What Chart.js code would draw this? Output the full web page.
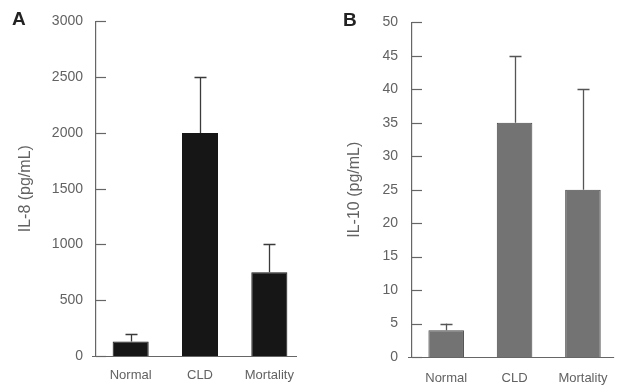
<!DOCTYPE html>
<html>
<head>
<meta charset="utf-8">
<script src="https://cdn.jsdelivr.net/npm/chart.js@4.4.1/dist/chart.umd.min.js"></script>
<style>
  html, body { margin: 0; padding: 0; background: #fff; overflow: hidden; }
  #wrap { position: relative; width: 617px; height: 388px; overflow: hidden; }
  #cA { position: absolute; left: 0; top: 0; }
  #cB { position: absolute; left: 310px; top: 0; }
</style>
</head>
<body>
<div id="wrap">
  <canvas id="cA" width="310" height="388"></canvas>
  <canvas id="cB" width="312" height="388"></canvas>
</div>
<script>
// Groups and measured cytokine levels (mean with SD above)
const categories = ['Normal', 'CLD', 'Mortality'];
const il8Mean = [130, 2000, 750];
const il8SD = [70, 500, 250];
const il10Mean = [4, 35, 25];
const il10SD = [1, 10, 15];
const il8Axis = { max: 3000, step: 500 };
const il10Axis = { max: 50, step: 5 };

const FONT = '"Liberation Sans", Arial, Helvetica, sans-serif';
const TEXT = '#626262';
const AXIS = '#666';

// Upper-only error whiskers, inward y ticks, baseline and panel letter
const decorations = {
  id: 'decorations',
  afterDatasetsDraw(chart, args, opts) {
    const { ctx, chartArea } = chart;
    const x = chart.scales.x, y = chart.scales.y;
    ctx.save();

    // inward tick marks on the value axis
    ctx.strokeStyle = AXIS;
    ctx.lineWidth = 1.2;
    y.ticks.forEach(t => {
      const py = Math.round(y.getPixelForValue(t.value)) + 0.5;
      ctx.beginPath();
      ctx.moveTo(chartArea.left, py);
      ctx.lineTo(chartArea.left + opts.tickLen, py);
      ctx.stroke();
    });

    // baseline
    const y0 = Math.round(y.getPixelForValue(0)) + 0.5;
    ctx.beginPath();
    ctx.moveTo(chartArea.left - opts.baseLeft, y0);
    ctx.lineTo(chartArea.right - opts.baseRight, y0);
    ctx.stroke();

    // error whiskers
    const mean = chart.data.datasets[0].data;
    const sd = opts.sd;
    ctx.strokeStyle = opts.errColor;
    ctx.lineWidth = 1.3;
    mean.forEach((m, i) => {
      const px = Math.round(x.getPixelForValue(i)) + 0.5;
      const pTop = y.getPixelForValue(m + sd[i]);
      const pBar = y.getPixelForValue(m);
      ctx.beginPath();
      ctx.moveTo(px, pBar);
      ctx.lineTo(px, pTop);
      ctx.moveTo(px - opts.cap, Math.round(pTop) + 0.5);
      ctx.lineTo(px + opts.cap, Math.round(pTop) + 0.5);
      ctx.stroke();
    });

    // panel letter
    ctx.fillStyle = '#222';
    ctx.font = 'bold 19px ' + FONT;
    ctx.textBaseline = 'alphabetic';
    ctx.textAlign = 'left';
    ctx.fillText(opts.letter, opts.letterX, opts.letterY);
    ctx.restore();
  }
};

function makeChart(id, cfg) {
  return new Chart(document.getElementById(id), {
    type: 'bar',
    data: {
      labels: categories,
      datasets: [{
        data: cfg.mean,
        backgroundColor: cfg.fill,
        borderColor: cfg.edge,
        borderWidth: 1,
        borderSkipped: 'bottom',
        categoryPercentage: 1,
        barPercentage: 0.52
      }]
    },
    options: {
      responsive: false,
      animation: false,
      layout: { padding: { top: cfg.top, right: cfg.right, bottom: 0, left: 0 } },
      plugins: {
        legend: { display: false },
        tooltip: { enabled: false },
        decorations: {
          sd: cfg.sd, errColor: cfg.err, cap: 6, tickLen: 10,
          baseLeft: cfg.baseLeft, baseRight: cfg.baseRight,
          letter: cfg.letter, letterX: cfg.letterX, letterY: cfg.letterY
        }
      },
      scales: {
        x: {
          offset: true,
          grid: { display: false, drawTicks: false },
          border: { display: false },
          ticks: { color: TEXT, font: { family: FONT, size: 13 }, padding: cfg.xPad, maxRotation: 0 },
          afterFit(s) { s.height = cfg.xHeight; }
        },
        y: {
          min: 0,
          max: cfg.axis.max,
          grid: { display: false, drawTicks: false },
          border: { display: true, color: AXIS, width: 1.2 },
          ticks: {
            stepSize: cfg.axis.step, color: TEXT, font: { family: FONT, size: 14 }, padding: cfg.yPad,
            callback: v => String(v)
          },
          title: {
            display: true, text: cfg.title, color: TEXT,
            font: { family: FONT, size: 16 }, padding: { top: cfg.titlePad, bottom: 0 }
          },
          afterFit(s) { s.width = cfg.yWidth; }
        }
      }
    },
    plugins: [decorations]
  });
}

makeChart('cA', {
  mean: il8Mean, sd: il8SD, axis: il8Axis, title: 'IL-8 (pg/mL)',
  fill: '#161616', edge: '#161616', err: '#3a3a3a',
  top: 18, right: 6, xHeight: 32, xPad: 12, yPad: 13, yWidth: 96, titlePad: 16,
  baseLeft: 4, baseRight: 7, letter: 'A', letterX: 12, letterY: 25
});

makeChart('cB', {
  mean: il10Mean, sd: il10SD, axis: il10Axis, title: 'IL-10 (pg/mL)',
  fill: '#737373', edge: '#4a4a4a', err: '#555',
  top: 20, right: 3, xHeight: 31, xPad: 14, yPad: 14, yWidth: 102, titlePad: 35,
  baseLeft: 4, baseRight: 3, letter: 'B', letterX: 33, letterY: 26
});
</script>
</body>
</html>
